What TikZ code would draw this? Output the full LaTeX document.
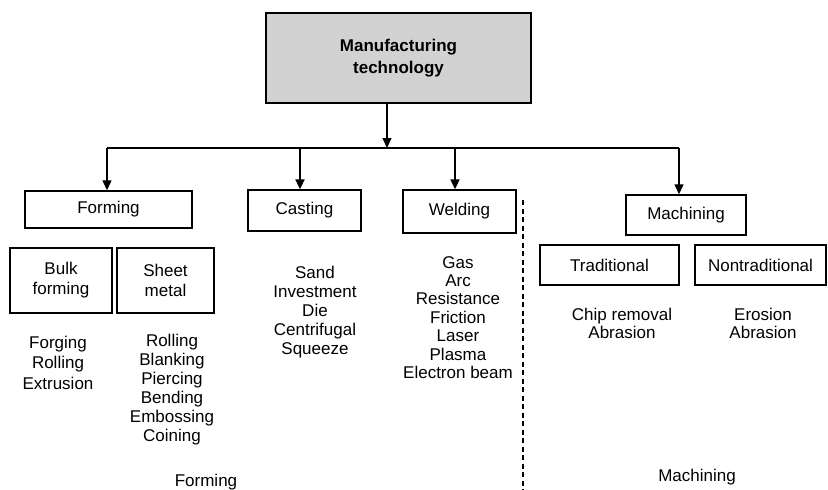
\documentclass[tikz,border=0pt]{standalone}
\usepackage{fontspec}
\setmainfont{Liberation Sans}
\usetikzlibrary{arrows.meta}
\begin{document}
\begin{tikzpicture}[x=1pt,y=-1pt,
  box/.style={draw=black, line width=1.4pt, inner sep=0pt, align=center,
    font=\fontsize{17}{20}\selectfont},
  mainbox/.style={draw=black, line width=2.4pt, fill=gray!35, inner sep=0pt,
    align=center, font=\fontsize{17}{22}\selectfont\bfseries},
  item/.style={inner sep=0pt, text height=12.2pt, text depth=0pt,
    font=\fontsize{17}{19}\selectfont},
  conn/.style={line width=1.3pt},
  arr/.style={line width=1.3pt, -{Triangle[length=10pt,width=9pt]}},
  arrb/.style={line width=2pt, -{Triangle[length=10pt,width=9pt]}},
  sep/.style={line width=1.1pt, dash pattern=on 5pt off 3.5pt}
]
\useasboundingbox (0,0) rectangle (828,490);

% main box
\node[mainbox, minimum width=265pt, minimum height=90pt] (main) at (398.5,58)
  {Manufacturing\\technology};

% level 1 boxes
\node[box, minimum width=167pt, minimum height=37pt] (forming) at (108.5,209.5) {Forming};
\node[box, minimum width=113pt, minimum height=41pt] (casting) at (304.5,210.5) {Casting};
\node[box, minimum width=113pt, minimum height=43pt] (welding) at (459.5,211.5) {Welding};
\node[box, minimum width=120pt, minimum height=40pt] (machining) at (686,215) {Machining};

% level 2 boxes
\node[box, minimum width=102pt, minimum height=65pt] (bulk) at (61,280.5) {Bulk\\forming};
\node[box, minimum width=97pt, minimum height=65pt] (sheet) at (165.5,280.5) {Sheet\\metal};
\node[box, minimum width=139pt, minimum height=40pt] (trad) at (609.5,265) {Traditional};
\node[box, minimum width=131pt, minimum height=40pt] (nontrad) at (760.5,265) {Nontraditional};

% bus coordinates
\coordinate (bus) at (387,148);
\coordinate (busL) at (107,148);
\coordinate (busC) at (300,148);
\coordinate (busW) at (455,148);
\coordinate (busR) at (679,148);

\draw[arr] (main.south -| bus) -- (bus);
\draw[conn] (busL) -- (busR);
\draw[arr] (busL) -- (busL |- forming.north);
\draw[arrb] (busC) -- (busC |- casting.north);
\draw[arrb] (busW) -- (busW |- welding.north);
\draw[arr] (busR) -- (busR |- machining.north);

% separator
\coordinate (sepT) at (523,200);
\coordinate (sepB) at (523,490);
\draw[sep] (sepT) -- (sepB);

% lists
\foreach \t [count=\i] in {Forging,Rolling,Extrusion}
  \node[item] (bulk\i) at (58,{342+20.5*(\i-1)}) {\t};
\foreach \t [count=\i] in {Rolling,Blanking,Piercing,Bending,Embossing,Coining}
  \node[item] (sheet\i) at (172,{340+19*(\i-1)}) {\t};
\foreach \t [count=\i] in {Sand,Investment,Die,Centrifugal,Squeeze}
  \node[item] (cast\i) at (315,{272+19*(\i-1)}) {\t};
\foreach \t [count=\i] in {Gas,Arc,Resistance,Friction,Laser,Plasma,Electron beam}
  \node[item] (weld\i) at (458,{262+18.4*(\i-1)}) {\t};
\foreach \t [count=\i] in {Chip removal,Abrasion}
  \node[item] (trad\i) at (622,{314+18.5*(\i-1)}) {\t};
\foreach \t [count=\i] in {Erosion,Abrasion}
  \node[item] (nontrad\i) at (763,{314+18.5*(\i-1)}) {\t};

% section labels
\node[item] (formlabel) at (206,480) {Forming};
\node[item] (machlabel) at (697,475) {Machining};
\end{tikzpicture}
\end{document}
